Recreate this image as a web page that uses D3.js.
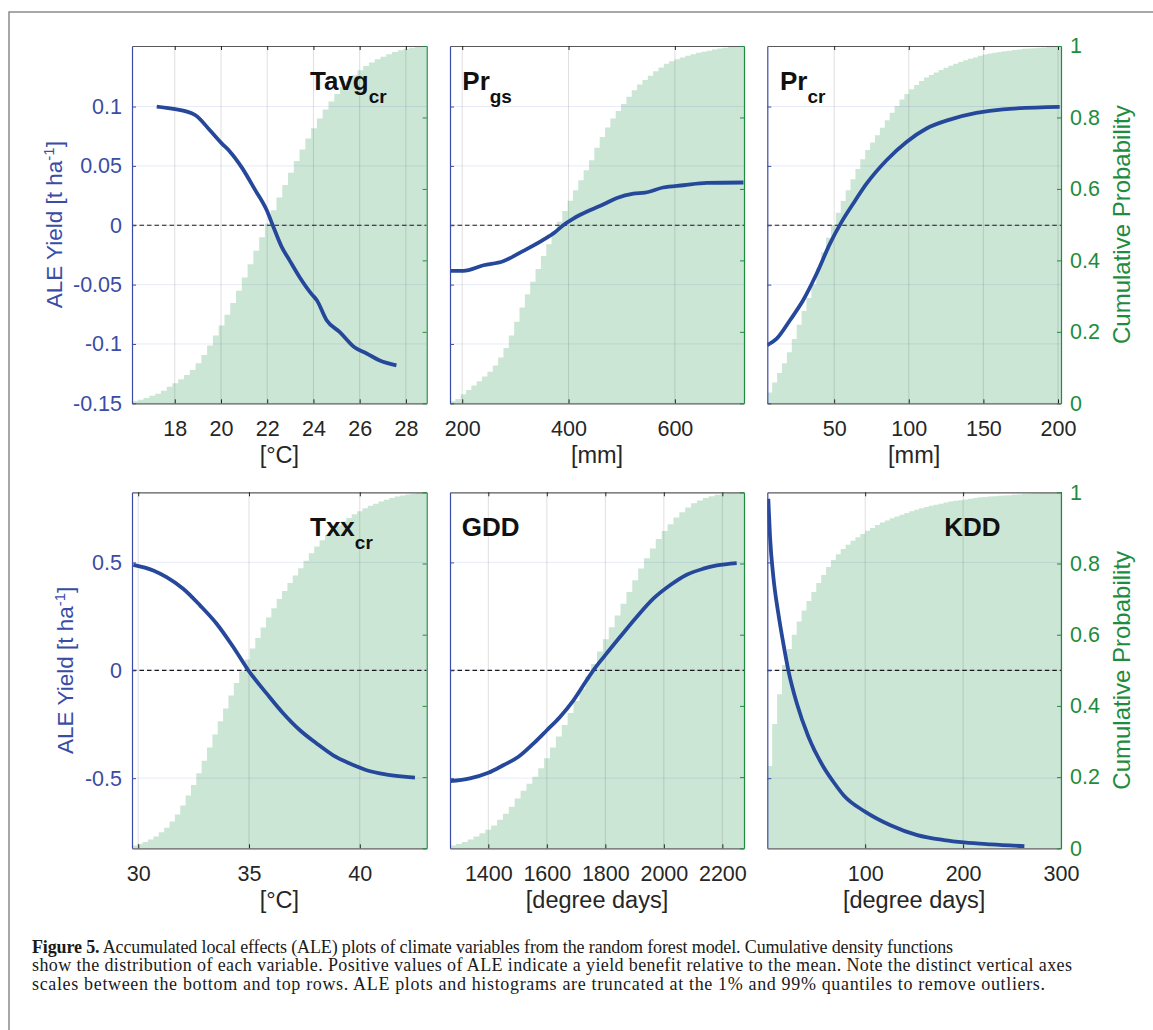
<!DOCTYPE html>
<html>
<head>
<meta charset="utf-8">
<script src="https://cdn.jsdelivr.net/npm/d3@7"></script>
<style>
  body { margin: 0; background: #fff; }
  svg { display: block; }
</style>
</head>
<body>
<div id="content"></div>
<script>
(function() {

// ---- data ----

// x ranges (1% .. 99% quantiles) and tick values
var tavgRange = [16.15, 28.9],  tavgTicks = [18, 20, 22, 24, 26, 28];
var prgsRange = [177, 730],     prgsTicks = [200, 400, 600];
var prcrRange = [5.2, 202],     prcrTicks = [50, 100, 150, 200];
var txxRange  = [29.72, 43.02], txxTicks  = [30, 35, 40];
var gddRange  = [1269, 2274],   gddTicks  = [1400, 1600, 1800, 2000, 2200];
var kddRange  = [0, 300],       kddTicks  = [100, 200, 300];

var aleTopDomain = [-0.15, 0.151], aleTopTicks = [-0.15, -0.1, -0.05, 0, 0.05, 0.1];
var aleBotDomain = [-0.825, 0.825], aleBotTicks = [-0.5, 0, 0.5];
var probTicks = [0, 0.2, 0.4, 0.6, 0.8, 1];

// ALE curves
var tavgX   = [17.22, 17.94, 18.87, 19.52, 20.03, 20.39, 20.89, 21.47, 21.97, 22.26, 22.62, 22.98, 23.41, 23.92, 24.14, 24.57, 25.14, 25.79, 26.30, 26.87, 27.59];
var tavgAle = [0.100, 0.098, 0.093, 0.080, 0.069, 0.062, 0.049, 0.030, 0.013, -0.001, -0.018, -0.030, -0.044, -0.058, -0.063, -0.080, -0.090, -0.103, -0.108, -0.114, -0.118];

var prgsX   = [177, 202, 240, 277, 315, 353, 375, 390, 409, 440, 466, 491, 522, 544, 578, 616, 660, 729];
var prgsAle = [-0.0385, -0.0385, -0.0337, -0.0303, -0.0216, -0.0121, -0.0056, 0, 0.0056, 0.0126, 0.0177, 0.023, 0.0267, 0.0275, 0.0318, 0.0337, 0.0357, 0.036];

var prcrX   = [5.2, 11.5, 20.4, 29.3, 38.3, 47.2, 55.0, 62.8, 71.7, 85.1, 98.5, 111.9, 127.5, 145.3, 163.2, 201.1];
var prcrAle = [-0.101, -0.0955, -0.080, -0.063, -0.0407, -0.0155, 0.0028, 0.0183, 0.035, 0.0548, 0.0702, 0.0815, 0.089, 0.0946, 0.0977, 0.0997];

var txxX    = [29.78, 30.68, 31.28, 32.03, 32.79, 33.54, 34.29, 34.97, 35.80, 36.55, 37.30, 38.05, 38.80, 39.55, 40.31, 41.21, 42.49];
var txxAle  = [0.489, 0.463, 0.432, 0.378, 0.301, 0.216, 0.108, 0.0, -0.108, -0.200, -0.278, -0.339, -0.394, -0.432, -0.463, -0.483, -0.497];

var gddX    = [1269, 1337, 1400, 1451, 1503, 1554, 1600, 1645, 1691, 1736, 1759, 1799, 1850, 1907, 1964, 2021, 2078, 2135, 2181, 2249];
var gddAle  = [-0.514, -0.501, -0.475, -0.440, -0.401, -0.340, -0.278, -0.216, -0.139, -0.046, 0, 0.069, 0.154, 0.247, 0.332, 0.394, 0.443, 0.471, 0.486, 0.497];

var kddX    = [1.0, 2.8, 6.2, 11.3, 16.4, 21.5, 30.2, 42.1, 57.4, 68.0, 77.9, 100.2, 125.8, 153.2, 180.5, 201, 228.4, 262.6];
var kddAle  = [0.795, 0.617, 0.432, 0.262, 0.124, 0.0, -0.154, -0.309, -0.448, -0.520, -0.579, -0.656, -0.718, -0.764, -0.787, -0.798, -0.807, -0.815];

// cumulative histograms (equal bins across the x range)
var tavgCdf = [0.006, 0.010, 0.015, 0.021, 0.027, 0.035, 0.046, 0.056, 0.067, 0.079, 0.093, 0.112, 0.135, 0.162, 0.190, 0.218, 0.248, 0.281, 0.315, 0.352,
  0.389, 0.427, 0.465, 0.503, 0.540, 0.576, 0.611, 0.645, 0.678, 0.710, 0.741, 0.770, 0.797, 0.822, 0.845, 0.866, 0.885, 0.902, 0.918, 0.932,
  0.944, 0.954, 0.963, 0.970, 0.977, 0.983, 0.988, 0.992, 0.995, 0.998, 1.0];

var prgsCdf = [0.006, 0.012, 0.025, 0.037, 0.050, 0.062, 0.075, 0.088, 0.106, 0.128, 0.155, 0.190, 0.228, 0.268, 0.305, 0.340, 0.376, 0.412, 0.445, 0.477,
  0.508, 0.538, 0.567, 0.596, 0.624, 0.652, 0.680, 0.715, 0.745, 0.772, 0.797, 0.818, 0.838, 0.858, 0.876, 0.892, 0.905, 0.917, 0.929, 0.940,
  0.950, 0.957, 0.963, 0.968, 0.973, 0.977, 0.981, 0.984, 0.987, 0.990, 0.993, 0.995, 0.997, 0.998, 1.0];

var prcrCdf = [0.030, 0.058, 0.085, 0.112, 0.143, 0.180, 0.220, 0.258, 0.295, 0.333, 0.378, 0.423, 0.463, 0.498, 0.533, 0.566, 0.596, 0.627, 0.656, 0.683,
  0.709, 0.730, 0.750, 0.771, 0.792, 0.813, 0.832, 0.850, 0.866, 0.879, 0.891, 0.902, 0.912, 0.919, 0.926, 0.933, 0.939, 0.945, 0.950, 0.955,
  0.960, 0.964, 0.968, 0.973, 0.976, 0.979, 0.981, 0.983, 0.985, 0.987, 0.989, 0.990, 0.992, 0.993, 0.994, 0.995, 0.996, 0.997, 0.998, 1.0];

var txxCdf = [0.008, 0.013, 0.018, 0.025, 0.033, 0.045, 0.058, 0.075, 0.095, 0.120, 0.148, 0.178, 0.211, 0.246, 0.283, 0.320, 0.357, 0.393, 0.429, 0.464,
  0.497, 0.530, 0.561, 0.591, 0.620, 0.648, 0.674, 0.700, 0.723, 0.745, 0.766, 0.787, 0.808, 0.829, 0.848, 0.865, 0.881, 0.895, 0.907, 0.918,
  0.928, 0.938, 0.947, 0.955, 0.962, 0.968, 0.974, 0.979, 0.984, 0.988, 0.991, 0.994, 0.996, 0.998, 1.0];

var gddCdf = [0.008, 0.012, 0.018, 0.025, 0.033, 0.042, 0.052, 0.064, 0.080, 0.097, 0.117, 0.140, 0.162, 0.181, 0.201, 0.225, 0.253, 0.283, 0.314, 0.346,
  0.380, 0.414, 0.448, 0.482, 0.518, 0.553, 0.587, 0.621, 0.654, 0.687, 0.720, 0.753, 0.786, 0.815, 0.842, 0.869, 0.891, 0.910, 0.929, 0.944,
  0.957, 0.969, 0.977, 0.984, 0.989, 0.993, 0.996, 0.998, 0.999, 1.0];

var kddCdf = [0.231, 0.349, 0.433, 0.515, 0.560, 0.600, 0.637, 0.668, 0.695, 0.720, 0.745, 0.768, 0.790, 0.810, 0.826, 0.841, 0.853, 0.864, 0.874, 0.883,
  0.892, 0.900, 0.908, 0.915, 0.921, 0.927, 0.932, 0.937, 0.942, 0.947, 0.951, 0.955, 0.959, 0.962, 0.965, 0.968, 0.971, 0.974, 0.976, 0.978,
  0.980, 0.982, 0.984, 0.986, 0.987, 0.988, 0.989, 0.990, 0.991, 0.992, 0.993, 0.994, 0.995, 0.996, 0.997, 0.997, 0.998, 0.999, 0.999, 1.0];

var titles    = ['Tavg', 'Pr', 'Pr', 'Txx', 'GDD', 'KDD'];
var subTitles = ['cr', 'gs', 'cr', 'cr', '', ''];
var xUnits    = ['[°C]', '[mm]', '[mm]', '[°C]', '[degree days]', '[degree days]'];

var captionLines = [
  ['Figure 5.', ' Accumulated local effects (ALE) plots of climate variables from the random forest model. Cumulative density functions'],
  ['', 'show the distribution of each variable. Positive values of ALE indicate a yield benefit relative to the mean. Note the distinct vertical axes'],
  ['', 'scales between the bottom and top rows. ALE plots and histograms are truncated at the 1% and 99% quantiles to remove outliers.']
];

// table built from the arrays above
var panels = [
  {range: tavgRange, ticks: tavgTicks, x: tavgX, ale: tavgAle, cdf: tavgCdf},
  {range: prgsRange, ticks: prgsTicks, x: prgsX, ale: prgsAle, cdf: prgsCdf},
  {range: prcrRange, ticks: prcrTicks, x: prcrX, ale: prcrAle, cdf: prcrCdf},
  {range: txxRange,  ticks: txxTicks,  x: txxX,  ale: txxAle,  cdf: txxCdf},
  {range: gddRange,  ticks: gddTicks,  x: gddX,  ale: gddAle,  cdf: gddCdf},
  {range: kddRange,  ticks: kddTicks,  x: kddX,  ale: kddAle,  cdf: kddCdf}
];

// ---- layout ----
var cols = [[132, 426.7], [450, 744], [767.3, 1061]];
var rows = [[46, 403.3], [492.3, 848.3]];
var titleOffset = [178, 12.3, 12.7, 178, 11.7, 177];

var blue = '#3a4ca6', lineBlue = '#26489b', green = '#1e8c3e', dark = '#262626';
var sans = '"Liberation Sans", Arial, Helvetica, sans-serif';

var svg = d3.select('#content').append('svg')
    .attr('width', 1153)
    .attr('height', 1030);

// outer frame of the figure box
svg.append('path')
    .attr('d', 'M9,1030 V12 H1153')
    .attr('fill', 'none')
    .attr('stroke', '#8c8c8c')
    .attr('stroke-width', 1.5);

var defs = svg.append('defs');

panels.forEach(function(p, i) {
  var col = i % 3, row = Math.floor(i / 3);
  var x0 = cols[col][0], x1 = cols[col][1], y0 = rows[row][0], y1 = rows[row][1];

  var x = d3.scaleLinear().domain(p.range).range([x0, x1]);
  var yL = d3.scaleLinear().domain(row ? aleBotDomain : aleTopDomain).range([y1, y0]);
  var yR = d3.scaleLinear().domain([0, 1]).range([y1, y0]);
  var leftTicks = row ? aleBotTicks : aleTopTicks;

  defs.append('clipPath').attr('id', 'clip' + i)
    .append('rect').attr('x', x0).attr('y', y0).attr('width', x1 - x0).attr('height', y1 - y0);

  var g = svg.append('g');
  var plot = g.append('g').attr('clip-path', 'url(#clip' + i + ')');

  // cumulative histogram
  var n = p.cdf.length, w = (p.range[1] - p.range[0]) / n;
  var steps = p.cdf.map(function(v, k) { return {x: p.range[0] + k * w, v: v}; });
  steps.push({x: p.range[1], v: p.cdf[n - 1]});
  plot.append('path')
      .datum(steps)
      .attr('fill', '#cce6d6')
      .attr('d', d3.area()
        .curve(d3.curveStepAfter)
        .x(function(d) { return x(d.x); })
        .y0(yR(0))
        .y1(function(d) { return yR(d.v); }));

  // grid lines
  plot.selectAll('.vgrid').data(p.ticks).enter().append('line')
      .attr('x1', function(d) { return x(d); }).attr('x2', function(d) { return x(d); })
      .attr('y1', y0).attr('y2', y1)
      .attr('stroke', dark).attr('stroke-opacity', 0.15).attr('stroke-width', 1);
  plot.selectAll('.hgrid').data(leftTicks).enter().append('line')
      .attr('x1', x0).attr('x2', x1)
      .attr('y1', function(d) { return yL(d); }).attr('y2', function(d) { return yL(d); })
      .attr('stroke', '#2a3fb0').attr('stroke-opacity', 0.1).attr('stroke-width', 1);

  // zero line
  plot.append('line')
      .attr('x1', x0).attr('x2', x1)
      .attr('y1', yL(0)).attr('y2', yL(0))
      .attr('stroke', '#1a1a1a').attr('stroke-width', 1.2)
      .attr('stroke-dasharray', '4.5,3');

  // ALE line
  plot.append('path')
      .datum(d3.zip(p.x, p.ale))
      .attr('fill', 'none')
      .attr('stroke', lineBlue)
      .attr('stroke-width', 3.8)
      .attr('stroke-linejoin', 'round')
      .attr('stroke-linecap', 'butt')
      .attr('d', d3.line()
        .curve(d3.curveMonotoneX)
        .x(function(d) { return x(d[0]); })
        .y(function(d) { return yL(d[1]); }));

  // axes
  var bottom = g.append('g')
      .attr('transform', 'translate(0,' + y1 + ')')
      .call(d3.axisBottom(x).tickValues(p.ticks).tickSizeInner(-4).tickSizeOuter(0).tickPadding(17)
        .tickFormat(function(d) { return String(d); }));
  var top = g.append('g')
      .attr('transform', 'translate(0,' + y0 + ')')
      .call(d3.axisTop(x).tickValues(p.ticks).tickSizeInner(-4).tickSizeOuter(0).tickFormat(''));
  var left = g.append('g')
      .attr('transform', 'translate(' + x0 + ',0)')
      .call(d3.axisLeft(yL).tickValues(leftTicks).tickSizeInner(-4).tickSizeOuter(0).tickPadding(10)
        .tickFormat(function(d) { return col === 0 ? String(d) : ''; }));
  var right = g.append('g')
      .attr('transform', 'translate(' + x1 + ',0)')
      .call(d3.axisRight(yR).tickValues(probTicks).tickSizeInner(-4).tickSizeOuter(0).tickPadding(9)
        .tickFormat(function(d) { return col === 2 ? String(d) : ''; }));

  [bottom, top].forEach(function(a) {
    a.select('.domain').attr('stroke', '#5a5a5a').attr('stroke-width', 1.2);
    a.selectAll('.tick line').attr('stroke', dark).attr('stroke-width', 1);
    a.selectAll('text').attr('fill', dark).style('font-family', sans).style('font-size', '21.5px');
  });
  left.select('.domain').attr('stroke', blue).attr('stroke-width', 1.2);
  left.selectAll('.tick line').attr('stroke', blue);
  left.selectAll('text').attr('fill', blue).style('font-family', sans).style('font-size', '21.5px');
  right.select('.domain').attr('stroke', green).attr('stroke-width', 1.2);
  right.selectAll('.tick line').attr('stroke', green);
  right.selectAll('text').attr('fill', green).style('font-family', sans).style('font-size', '21.5px');

  // x axis label
  g.append('text')
      .attr('x', (x0 + x1) / 2)
      .attr('y', y1 + 59.7)
      .attr('text-anchor', 'middle')
      .attr('fill', dark)
      .style('font-family', sans)
      .style('font-size', '23.5px')
      .text(xUnits[i]);

  // panel title
  var t = g.append('text')
      .attr('x', x0 + titleOffset[i])
      .attr('y', y0 + 43.5)
      .attr('fill', '#111')
      .style('font-family', sans)
      .style('font-weight', 'bold')
      .style('font-size', '26px');
  t.append('tspan').text(titles[i]);
  if (subTitles[i]) {
    t.append('tspan').attr('dy', 13).style('font-size', '19px').text(subTitles[i]);
  }

  // y labels
  if (col === 0) {
    var lx = row ? 73 : 62, cy = (y0 + y1) / 2;
    var yl = g.append('text')
        .attr('transform', 'translate(' + lx + ',' + cy + ') rotate(-90)')
        .attr('text-anchor', 'middle')
        .attr('fill', blue)
        .style('font-family', sans)
        .style('font-size', '22.5px');
    yl.append('tspan').text('ALE Yield [t ha');
    yl.append('tspan').attr('dy', -8).style('font-size', '15px').text('-1');
    yl.append('tspan').attr('dy', 8).text(']');
  }
  if (col === 2) {
    g.append('text')
        .attr('transform', 'translate(1130,' + (y0 + y1) / 2 + ') rotate(-90)')
        .attr('text-anchor', 'middle')
        .attr('fill', green)
        .style('font-family', sans)
        .style('font-size', '24px')
        .text('Cumulative Probability');
  }
});

// caption
var capBase = [953, 971.3, 989.5], capLen = [921, 1040, 1013];
captionLines.forEach(function(line, k) {
  var txt = svg.append('text')
      .attr('x', 32)
      .attr('y', capBase[k])
      .attr('textLength', capLen[k])
      .attr('lengthAdjust', 'spacing')
      .attr('fill', '#1a1a1a')
      .style('font-family', '"Liberation Serif", "Times New Roman", serif')
      .style('font-size', '18px');
  if (line[0]) txt.append('tspan').style('font-weight', 'bold').text(line[0]);
  txt.append('tspan').text(line[1]);
});

})();
</script>
</body>
</html>
